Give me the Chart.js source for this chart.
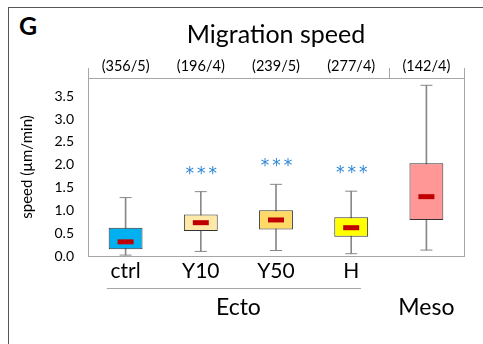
<!DOCTYPE html>
<html>
<head>
    <title>Migration speed</title>
    <script src="https://cdn.jsdelivr.net/npm/chart.js"></script>
    <style>
        body { margin: 0; background: #fff; }
        #wrap { position: relative; width: 483px; height: 344px; }
        #frame { position: absolute; left: 8px; top: 7px; width: 480px; height: 400px;
                 border-left: 1px solid #555; border-top: 1px solid #555; }
        #letter { position: absolute; left: 19px; top: 10px; font: bold 25px Lato, sans-serif; }
        canvas { position: absolute; left: 0; top: 0; }
    </style>
</head>
<body>
<div id="wrap">
    <div id="frame"></div>
    <div id="letter">G</div>
    <canvas id="boxChart" width="483" height="344"></canvas>
</div>

<script>
    // data
    const categories = ['ctrl', 'Y10', 'Y50', 'H', 'Meso'];
    const groups = ['Ecto', 'Meso'];
    const counts = ['(356/5)', '(196/4)', '(239/5)', '(277/4)', '(142/4)'];
    const whiskerLow = [0.02, 0.10, 0.12, 0.05, 0.13];
    const q1 = [0.15, 0.55, 0.58, 0.42, 0.79];
    const median = [0.31, 0.73, 0.79, 0.62, 1.30];
    const q3 = [0.62, 0.91, 1.00, 0.85, 2.03];
    const whiskerHigh = [1.28, 1.41, 1.57, 1.42, 3.74];
    const starLevel = [null, 1.88, 2.05, 1.90, null];
    const yTicks = [0, 0.5, 1, 1.5, 2, 2.5, 3, 3.5];

    const boxColors = ['#00b0f0', '#ffe9a9', '#ffd966', '#ffff00', '#ff9797'];
    const font = 'Lato, "Open Sans", sans-serif';
    const gray = '#a6a6a6';

    const extras = {
        id: 'extras',
        afterDraw(chart) {
            const c = chart.ctx, a = chart.chartArea;
            const x = chart.scales.x, y = chart.scales.y;
            c.save();
            // title over the plot area
            c.fillStyle = '#000';
            c.font = '25px ' + font;
            c.textAlign = 'center';
            c.textBaseline = 'middle';
            c.fillText('Migration speed', (a.left + a.right) / 2, 35);
            // plot frame
            c.strokeStyle = gray;
            c.lineWidth = 1;
            c.strokeRect(Math.round(a.left) + 0.5, Math.round(a.top) + 0.5,
                Math.round(a.right - a.left), Math.round(a.bottom - a.top));
            // top separators
            [-0.5, 3.5, 4.5].forEach(v => {
                const px = Math.round(x.getPixelForValue(v)) + 0.5;
                c.beginPath();
                c.moveTo(px, a.top);
                c.lineTo(px, a.top - 10);
                c.stroke();
            });
            // significance stars
            c.fillStyle = '#2e86d6';
            c.font = '17px "DejaVu Sans", sans-serif';
            c.letterSpacing = '3px';
            starLevel.forEach((s, i) => {
                if (s === null) return;
                c.fillText('***', x.getPixelForValue(i) + 2, y.getPixelForValue(s) + 4);
            });
            c.letterSpacing = '0px';
            // group line and labels
            c.strokeStyle = gray;
            c.beginPath();
            c.moveTo(x.getPixelForValue(-0.25), 288.5);
            c.lineTo(x.getPixelForValue(3.13), 288.5);
            c.stroke();
            c.fillStyle = '#000';
            c.font = '23px ' + font;
            c.fillText(groups[0], x.getPixelForValue(1.5), 308);
            c.fillText(groups[1], x.getPixelForValue(4), 308);
            c.restore();
        }
    };

    const ctx = document.getElementById('boxChart').getContext('2d');
    new Chart(ctx, {
        type: 'bar',
        data: {
            labels: categories,
            datasets: [
                {
                    label: 'median',
                    type: 'line',
                    data: median,
                    showLine: false,
                    pointStyle: 'line',
                    pointRadius: 8,
                    pointBorderWidth: 5,
                    borderColor: '#c00000',
                    order: 0
                },
                {
                    label: 'box',
                    data: categories.map((c, i) => [q1[i], q3[i]]),
                    backgroundColor: boxColors,
                    borderColor: '#333',
                    borderWidth: 1,
                    borderSkipped: false,
                    grouped: false,
                    categoryPercentage: 1,
                    barPercentage: 0.45,
                    order: 1
                },
                {
                    label: 'capHigh',
                    type: 'line',
                    data: whiskerHigh,
                    showLine: false,
                    pointStyle: 'line',
                    pointRadius: 6,
                    pointBorderWidth: 1,
                    borderColor: '#888',
                    order: 2
                },
                {
                    label: 'capLow',
                    type: 'line',
                    data: whiskerLow,
                    showLine: false,
                    pointStyle: 'line',
                    pointRadius: 6,
                    pointBorderWidth: 1,
                    borderColor: '#888',
                    order: 2
                },
                {
                    label: 'whisker',
                    data: categories.map((c, i) => [whiskerLow[i], whiskerHigh[i]]),
                    backgroundColor: '#888',
                    borderWidth: 0,
                    grouped: false,
                    barThickness: 1,
                    order: 3
                }
            ]
        },
        options: {
            responsive: false,
            animation: false,
            events: [],
            layout: { padding: { left: 0, right: 19, top: 51, bottom: 8 } },
            plugins: {
                legend: { display: false },
                tooltip: { enabled: false }
            },
            scales: {
                x: {
                    position: 'bottom',
                    offset: true,
                    grid: { display: false, drawTicks: false },
                    border: { display: true, color: gray },
                    ticks: {
                        color: '#000',
                        font: { family: font, size: 21 },
                        padding: 3,
                        callback: (v, i) => i < 4 ? categories[i] : ''
                    },
                    afterFit: s => { s.height = 80; }
                },
                x2: {
                    position: 'top',
                    type: 'category',
                    labels: counts,
                    offset: true,
                    grid: { display: false, drawTicks: false },
                    border: { display: false },
                    ticks: { color: '#000', font: { family: font, size: 14.5 }, padding: 3 },
                    afterFit: s => { s.height = 27; }
                },
                y: {
                    min: 0,
                    max: 3.9,
                    afterBuildTicks: s => { s.ticks = yTicks.map(v => ({ value: v })); },
                    grid: { display: false, drawOnChartArea: false, drawTicks: true, tickLength: 6, color: gray },
                    border: { display: true, color: gray },
                    ticks: {
                        color: '#000',
                        font: { family: font, size: 14 },
                        padding: 8,
                        callback: v => v.toFixed(1)
                    },
                    title: {
                        display: true,
                        text: 'speed (µm/min)',
                        color: '#000',
                        font: { family: font, size: 15 },
                        padding: { top: 18, bottom: 0 }
                    },
                    afterFit: s => { s.width = 88; }
                }
            }
        },
        plugins: [extras]
    });
</script>
</body>
</html>
